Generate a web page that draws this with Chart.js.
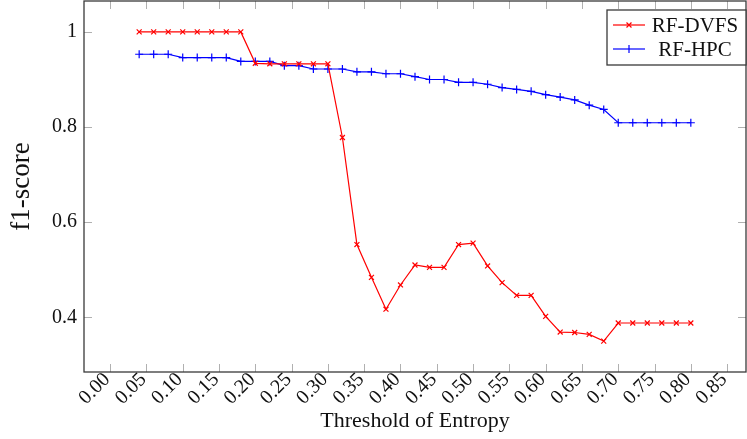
<!DOCTYPE html>
<html>
<head>
<meta charset="utf-8">
<script src="https://cdn.jsdelivr.net/npm/chart.js@4/dist/chart.umd.min.js"></script>
<style>
html,body{margin:0;padding:0;background:#fff;}
#wrap{width:747px;height:439px;}
</style>
</head>
<body>
<div id="wrap"><canvas id="c" width="747" height="439"></canvas></div>
<script>
const thresholds = [0.04,0.06,0.08,0.10,0.12,0.14,0.16,0.18,0.20,0.22,0.24,0.26,0.28,0.30,0.32,0.34,0.36,0.38,0.40,0.42,0.44,0.46,0.48,0.50,0.52,0.54,0.56,0.58,0.60,0.62,0.64,0.66,0.68,0.70,0.72,0.74,0.76,0.78,0.80];
const rfDvfs = [1.0,1.0,1.0,1.0,1.0,1.0,1.0,1.0,0.934,0.933,0.933,0.933,0.933,0.933,0.778,0.553,0.484,0.417,0.468,0.510,0.505,0.505,0.553,0.556,0.508,0.473,0.446,0.446,0.402,0.369,0.368,0.364,0.350,0.388,0.388,0.388,0.388,0.388,0.388];
const rfHpc = [0.953,0.953,0.953,0.946,0.946,0.946,0.946,0.938,0.938,0.938,0.929,0.929,0.922,0.922,0.922,0.916,0.916,0.912,0.912,0.906,0.900,0.900,0.894,0.894,0.890,0.883,0.879,0.875,0.868,0.863,0.857,0.846,0.837,0.809,0.809,0.809,0.809,0.809,0.809];
const xTicks = [0.00,0.05,0.10,0.15,0.20,0.25,0.30,0.35,0.40,0.45,0.50,0.55,0.60,0.65,0.70,0.75,0.80,0.85];
const yTicks = [0.4,0.6,0.8,1.0];
const seriesNames = ['RF-DVFS','RF-HPC'];

const FONT = "'Liberation Serif', 'Times New Roman', serif";

function zeroPad(scale) {
  scale.paddingTop = 0; scale.paddingBottom = 0;
  scale.paddingLeft = 0; scale.paddingRight = 0;
}

const framePlugin = {
  id: 'frame',
  afterDatasetsDraw(chart) {
    const {ctx, chartArea: a, scales} = chart;
    ctx.save();
    ctx.strokeStyle = '#b0b0b0';
    ctx.lineWidth = 1;
    const L = 8;
    xTicks.forEach(v => {
      const x = Math.round(scales.x.getPixelForValue(v)) + 0.5;
      ctx.beginPath();
      ctx.moveTo(x, a.bottom); ctx.lineTo(x, a.bottom - L);
      ctx.moveTo(x, a.top); ctx.lineTo(x, a.top + L);
      ctx.stroke();
    });
    yTicks.forEach(v => {
      const y = Math.round(scales.y.getPixelForValue(v)) + 0.5;
      ctx.beginPath();
      ctx.moveTo(a.left, y); ctx.lineTo(a.left + L, y);
      ctx.moveTo(a.right, y); ctx.lineTo(a.right - L, y);
      ctx.stroke();
    });
    ctx.strokeStyle = '#3a3a3a';
    ctx.lineWidth = 1.3;
    ctx.strokeRect(a.left, a.top, a.right - a.left, a.bottom - a.top);
    // legend
    const bx = 607, by = 10, bw = a.right - 607, bh = 55;
    ctx.fillStyle = '#fff';
    ctx.fillRect(bx, by, bw, bh);
    ctx.strokeStyle = '#3a3a3a';
    ctx.lineWidth = 1.3;
    ctx.strokeRect(bx, by, bw, bh);
    const rows = [25, 49];
    chart.data.datasets.forEach((ds, i) => {
      const y = rows[i];
      ctx.strokeStyle = ds.borderColor;
      ctx.lineWidth = 1.2;
      ctx.beginPath();
      ctx.moveTo(613, y); ctx.lineTo(645, y);
      ctx.stroke();
      const r = ds.pointRadius;
      ctx.beginPath();
      if (ds.pointStyle === 'crossRot') {
        const d = r * Math.SQRT1_2;
        ctx.moveTo(629 - d, y - d); ctx.lineTo(629 + d, y + d);
        ctx.moveTo(629 - d, y + d); ctx.lineTo(629 + d, y - d);
      } else {
        ctx.moveTo(629, y - r); ctx.lineTo(629, y + r);
      }
      ctx.stroke();
      ctx.fillStyle = '#111';
      ctx.font = '21px ' + FONT;
      ctx.textAlign = 'center';
      ctx.textBaseline = 'middle';
      ctx.fillText(ds.label, 695, y + 1);
    });
    ctx.restore();
  }
};

new Chart(document.getElementById('c'), {
  type: 'line',
  data: {
    datasets: [
      {
        label: seriesNames[0],
        data: thresholds.map((t, i) => ({x: t, y: rfDvfs[i]})),
        borderColor: 'rgb(255,0,0)',
        backgroundColor: 'rgb(255,0,0)',
        borderWidth: 1.2,
        pointStyle: 'crossRot',
        pointRadius: 3.5,
        pointBorderWidth: 1.2,
        tension: 0,
        fill: false
      },
      {
        label: seriesNames[1],
        data: thresholds.map((t, i) => ({x: t, y: rfHpc[i]})),
        borderColor: 'rgb(0,0,255)',
        backgroundColor: 'rgb(0,0,255)',
        borderWidth: 1.2,
        pointStyle: 'cross',
        pointRadius: 4,
        pointBorderWidth: 1.2,
        tension: 0,
        fill: false
      }
    ]
  },
  options: {
    responsive: false,
    animation: false,
    devicePixelRatio: 1,
    layout: {autoPadding: false, padding: {top: 1, right: 1, left: 0, bottom: 0}},
    plugins: {legend: {display: false}, tooltip: {enabled: false}},
    scales: {
      x: {
        type: 'linear',
        min: -0.036,
        max: 0.876,
        afterBuildTicks(scale) { scale.ticks = xTicks.map(v => ({value: v})); },
        afterFit(scale) { scale.height = 67; zeroPad(scale); },
        grid: {display: false, drawTicks: false},
        border: {display: false},
        ticks: {
          minRotation: 45, maxRotation: 45, autoSkip: false, padding: -4, labelOffset: -3,
          color: '#111',
          font: {family: FONT, size: 20},
          callback: v => Number(v).toFixed(2)
        },
        title: {
          display: true, text: 'Threshold of Entropy', color: '#111',
          font: {family: FONT, size: 22}, padding: {top: 0, bottom: 5}
        }
      },
      y: {
        type: 'linear',
        min: 0.285,
        max: 1.065,
        afterBuildTicks(scale) { scale.ticks = yTicks.map(v => ({value: v})); },
        afterFit(scale) { scale.width = 84; zeroPad(scale); },
        grid: {display: false, drawTicks: false},
        border: {display: false},
        ticks: {
          padding: 7, color: '#111',
          font: {family: FONT, size: 20},
          callback: v => (Math.abs(v - 1) < 1e-9 ? '1' : String(Number(v).toFixed(1)))
        },
        title: {
          display: true, text: 'f1-score', color: '#111',
          font: {family: FONT, size: 27}, padding: {top: 6, bottom: 0}
        }
      }
    }
  },
  plugins: [framePlugin]
});
</script>
</body>
</html>
